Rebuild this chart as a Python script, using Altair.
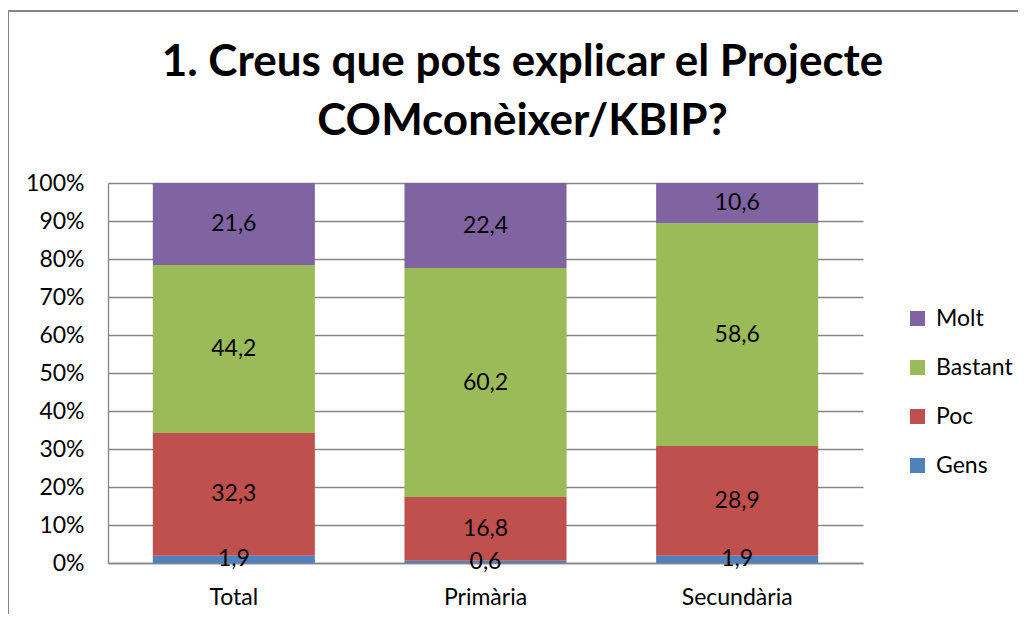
import altair as alt
import pandas as pd

categories = ["Total", "Primària", "Secundària"]
series = ["Gens", "Poc", "Bastant", "Molt"]
gens = [1.9, 0.6, 1.9]
poc = [32.3, 16.8, 28.9]
bastant = [44.2, 60.2, 58.6]
molt = [21.6, 22.4, 10.6]
colors = ["#4F81BD", "#C0504D", "#9BBB59", "#8064A2"]
y_ticks = list(range(0, 101, 10))

values = {"Gens": gens, "Poc": poc, "Bastant": bastant, "Molt": molt}
rows = []
for si, s in enumerate(series):
    for ci, c in enumerate(categories):
        v = values[s][ci]
        rows.append({"cat": c, "serie": s, "ord": si, "value": v,
                     "label": f"{v:.1f}".replace(".", ",")})
df = pd.DataFrame(rows)

FONT = "Lato"
GRAY = "#868686"

base = alt.Chart(df).transform_stack(
    stack="value", groupby=["cat"], sort=[alt.SortField("ord", order="ascending")],
    as_=["y0", "y1"]
).transform_calculate(mid="(datum.y0 + datum.y1) / 2")

xscale = alt.Scale(paddingInner=0.356, paddingOuter=0.178)
xaxis = alt.Axis(labelAngle=0, ticks=False, domainColor=GRAY, domainWidth=1.3,
                 labelFontSize=23, labelFont=FONT, labelColor="#000", labelPadding=23)
yscale = alt.Scale(domain=[0, 100], nice=False)
yaxis = alt.Axis(values=y_ticks, labelExpr="datum.value + '%'", ticks=False,
                 labelOverlap=False, labelBound=False,
                 grid=True, gridColor=GRAY, gridWidth=1.3, domainColor=GRAY,
                 domainWidth=1.3, labelFontSize=23, labelFont=FONT,
                 labelColor="#000", labelPadding=24)

bars = base.mark_bar().encode(
    x=alt.X("cat:N", sort=categories, title=None, scale=xscale, axis=xaxis),
    y=alt.Y("y0:Q", title=None, scale=yscale, axis=yaxis),
    y2="y1:Q",
    color=alt.Color("serie:N", scale=alt.Scale(domain=series[::-1], range=colors[::-1]),
                    legend=alt.Legend(title=None, orient="none", legendX=798, legendY=124,
                                      symbolType="square", symbolSize=225,
                                      symbolStrokeWidth=0, labelFontSize=23,
                                      labelFont=FONT, labelColor="#000", labelOffset=7,
                                      rowPadding=25, padding=0)),
)

texts = base.mark_text(fontSize=23, font=FONT, color="#000", baseline="middle").encode(
    x=alt.X("cat:N", sort=categories, title=None, scale=xscale, axis=xaxis),
    y=alt.Y("mid:Q", title=None, scale=yscale, axis=yaxis),
    text="label:N",
)

frame = alt.Chart(df).mark_rect(fill=None, stroke=GRAY, strokeWidth=1.3).encode(
    x=alt.value(-100), x2=alt.value(1100), y=alt.value(-172), y2=alt.value(700)
)

chart = alt.layer(frame, bars, texts).properties(
    width=755, height=380,
    title=alt.TitleParams(
        text=["1. Creus que pots explicar el Projecte", "COMconèixer/KBIP?"],
        fontSize=44, font=FONT, fontWeight="bold", color="#000",
        anchor="middle", dx=37, dy=134, lineHeight=59, offset=0),
    autosize=alt.AutoSizeParams(type="none"),
    padding={"left": 100, "top": 175, "right": 155, "bottom": 51},
).configure_view(stroke=None)

chart.save("out.html", embed_options={"renderer": "svg", "actions": False})
